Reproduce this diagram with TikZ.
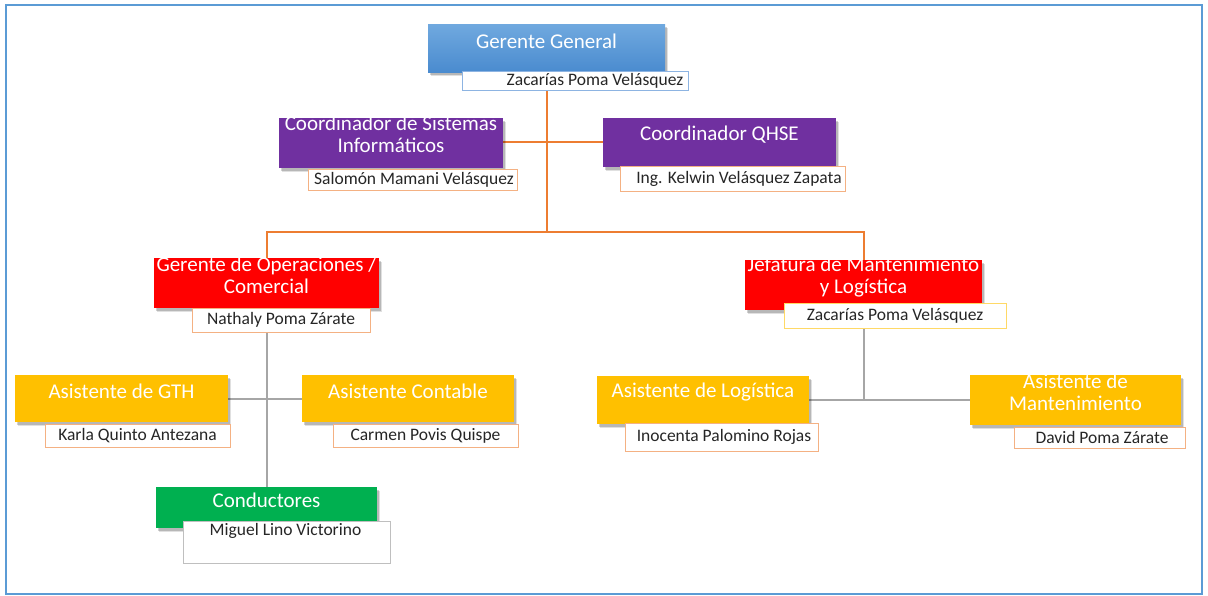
\documentclass[tikz,border=0pt]{standalone}
\usepackage{fontspec}
\setmainfont{Carlito}
\usetikzlibrary{shadows}

\definecolor{frameblue}{HTML}{5B9BD5}
\definecolor{ggtop}{HTML}{70A9DF}
\definecolor{ggbot}{HTML}{4A8BCF}
\definecolor{rolepurple}{HTML}{7030A0}
\definecolor{rolered}{HTML}{FF0000}
\definecolor{rolegold}{HTML}{FFC000}
\definecolor{rolegreen}{HTML}{00B050}
\definecolor{lineorange}{HTML}{ED7D31}
\definecolor{linegray}{HTML}{A6A6A6}
\definecolor{edgeorange}{HTML}{F4B183}
\definecolor{edgeblue}{HTML}{8DB4E2}
\definecolor{edgeyellow}{HTML}{FFD966}
\definecolor{edgegray}{HTML}{BFBFBF}

\tikzset{
  rolebox/.style={draw=none, inner sep=0pt,
    drop shadow={shadow xshift=3pt, shadow yshift=-4pt, opacity=0.12, fill=black},
    drop shadow={shadow xshift=1.5pt, shadow yshift=-2.5pt, opacity=0.18, fill=black}},
  roletext/.style={text=white, font=\fontsize{21}{22}\selectfont, align=center, inner sep=0pt},
  namebox/.style={fill=white, line width=1pt, inner sep=0pt},
  nametext/.style={font=\fontsize{17.5}{19}\selectfont, text=black!85, inner sep=0pt},
  orgline/.style={draw=lineorange, line width=1.6pt},
  subline/.style={draw=linegray, line width=1.6pt},
  frame/.style={draw=frameblue, line width=2pt}
}

% coloured role box: name, x1, y1, x2, y2, style
\newcommand\RoleBox[6]{%
  \node[rolebox, #6, minimum width={(#4-#2)*1pt}, minimum height={(#5-#3)*1pt}]
    (#1) at ({(#2+#4)/2},{(#3+#5)/2}) {};}
% role title, clipped to its box: box name, x, y, text
\newcommand\RoleText[4]{%
  \begin{scope}
    \clip (#1.south west) rectangle (#1.north east);
    \node[roletext] (#1-t) at (#2,#3) {#4};
  \end{scope}}
% white name box: name, x1, y1, x2, y2, edge colour
\newcommand\NameBox[6]{%
  \node[namebox, draw=#6, minimum width={(#4-#2)*1pt}, minimum height={(#5-#3)*1pt}]
    (#1) at ({(#2+#4)/2},{(#3+#5)/2}) {};}

\begin{document}
\begin{tikzpicture}[x=1pt, y=-1pt]
  \useasboundingbox (0,0) rectangle (1208,595);
  \fill[white] (0,0) rectangle (1208,595);
  \draw[frame] (6,5) rectangle (1202,594);

  % junction points
  \coordinate (j1) at (547,142);
  \coordinate (j2) at (547,232);
  \coordinate (j3) at (864,400);

  % ---- connectors ----
  \coordinate (ggnb) at (547,90);
  \draw[orgline] (ggnb) -- (j2);
  \draw[orgline] (503,142) coordinate (csie) -- (603,142) coordinate (qhsew);
  \draw[orgline] (267,258) coordinate (gopn) |- (j2) -| (864,260) coordinate (jefn);
  \draw[subline] (267,332) coordinate (gops) -- (267,487) coordinate (condn);
  \draw[subline] (228,399) coordinate (gthe) -- (302,399) coordinate (conw);
  \draw[subline] (864,328) coordinate (jefs) -- (j3);
  \draw[subline] (809,400) coordinate (loge) -- (970,400) coordinate (manw);

  % ---- Gerente General ----
  \RoleBox{gg}{428}{24}{665}{72}{top color=ggtop, bottom color=ggbot}
  \RoleText{gg}{546.5}{41}{Gerente General}
  \NameBox{ggn}{462}{71}{688}{90}{edgeblue}
  \node[nametext] (ggn-t) at (595,80.5) {Zacarías Poma Velásquez};

  % ---- coordinators ----
  \RoleBox{csi}{279}{118}{503}{168}{fill=rolepurple}
  \RoleText{csi}{391}{134}{Coordinador de Sistemas\\Informáticos}
  \NameBox{csin}{308}{169}{517}{190}{edgeorange}
  \node[nametext] (csin-t) at (414,179.5) {Salomón Mamani Velásquez};

  \RoleBox{qhse}{603}{118}{836}{167}{fill=rolepurple}
  \RoleText{qhse}{719.5}{135}{Coordinador QHSE}
  \NameBox{qhsen}{620}{166}{845}{191}{edgeorange}
  \node[nametext] (qhsen-t) at (739,178.5) {Ing. Kelwin Velásquez Zapata};

  % ---- managers ----
  \RoleBox{gop}{154}{258}{379}{308}{fill=rolered}
  \RoleText{gop}{266.5}{275.5}{Gerente de Operaciones /\\Comercial}
  \NameBox{gopnb}{192}{308}{370}{332}{edgeorange}
  \node[nametext] (gopnb-t) at (281,320) {Nathaly Poma Zárate};

  \RoleBox{jef}{745}{260}{982}{310}{fill=rolered}
  \RoleText{jef}{863.5}{277.5}{Jefatura de Mantenimiento\\y Logística}
  \NameBox{jefnb}{784}{303}{1006}{328}{edgeyellow}
  \node[nametext] (jefnb-t) at (895,315.5) {Zacarías Poma Velásquez};

  % ---- assistants ----
  \RoleBox{gth}{15}{375}{228}{422}{fill=rolegold}
  \RoleText{gth}{121.5}{391}{Asistente de GTH}
  \NameBox{gthn}{45}{424}{230}{447}{edgeorange}
  \node[nametext] (gthn-t) at (137.5,435.5) {Karla Quinto Antezana};

  \RoleBox{con}{302}{375}{514}{422}{fill=rolegold}
  \RoleText{con}{408}{391}{Asistente Contable}
  \NameBox{conn}{333}{424}{518}{447}{edgeorange}
  \node[nametext] (conn-t) at (425.5,435.5) {Carmen Povis Quispe};

  \RoleBox{log}{597}{376}{809}{424}{fill=rolegold}
  \RoleText{log}{703}{392}{Asistente de Logística}
  \NameBox{logn}{625}{423}{818}{451}{edgeorange}
  \node[nametext] (logn-t) at (724,437) {Inocenta Palomino Rojas};

  \RoleBox{man}{970}{375}{1181}{425}{fill=rolegold}
  \RoleText{man}{1075.5}{392}{Asistente de\\Mantenimiento}
  \NameBox{mann}{1014}{427}{1185}{448}{edgeorange}
  \node[nametext] (mann-t) at (1102,437.5) {David Poma Zárate};

  % ---- drivers ----
  \RoleBox{cond}{156}{487}{377}{528}{fill=rolegreen}
  \RoleText{cond}{266.5}{500}{Conductores}
  \NameBox{condnb}{183}{521}{390}{563}{edgegray}
  \node[nametext] (condnb-t) at (285.5,531) {Miguel Lino Victorino};
\end{tikzpicture}
\end{document}
